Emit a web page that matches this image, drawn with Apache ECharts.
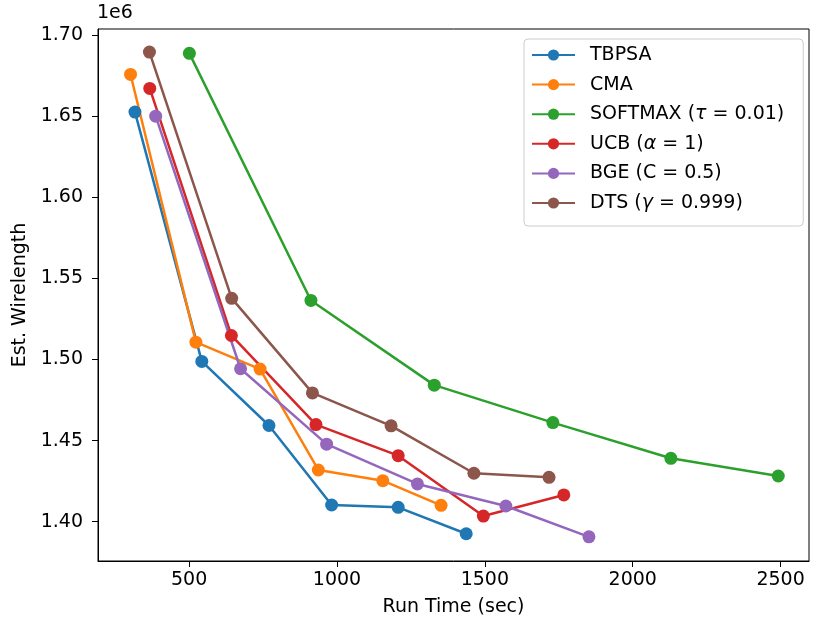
<!DOCTYPE html>
<html>
<head>
<meta charset="utf-8">
<script src="https://cdn.jsdelivr.net/npm/echarts@6/dist/echarts.min.js"></script>
<style>
  html, body { margin: 0; padding: 0; background: #fff; }
  #chart { width: 813px; height: 626px; }
</style>
</head>
<body>
<div id="chart"></div>
<script>
// values (run time in sec, wirelength)
const tbpsaX = [317, 543, 770, 982, 1207, 1437];
const tbpsaY = [1652500, 1498800, 1459300, 1410300, 1408900, 1392600];
const cmaX = [302, 523, 740, 937, 1155, 1352];
const cmaY = [1675700, 1510700, 1494100, 1431900, 1425300, 1410100];
const softmaxX = [501, 912, 1329, 1730, 2129, 2492];
const softmaxY = [1688700, 1536400, 1484200, 1461100, 1439100, 1428200];
const ucbX = [367, 643, 929, 1207, 1495, 1767];
const ucbY = [1667100, 1514800, 1459900, 1440700, 1403500, 1416500];
const bgeX = [387, 674, 965, 1272, 1571, 1852];
const bgeY = [1650000, 1494300, 1447800, 1423300, 1409700, 1390700];
const dtsX = [366, 644, 917, 1183, 1463, 1717];
const dtsY = [1689500, 1537700, 1479400, 1459100, 1429900, 1427400];

const seriesNames = ["TBPSA", "CMA", "SOFTMAX (τ = 0.01)", "UCB (α = 1)", "BGE (C = 0.5)", "DTS (γ = 0.999)"];
const colors = ["#1f77b4", "#ff7f0e", "#2ca02c", "#d62728", "#9467bd", "#8c564b"];
const xTicks = [500, 1000, 1500, 2000, 2500];
const yTicks = [1400000, 1450000, 1500000, 1550000, 1600000, 1650000, 1700000];

const FONT = "DejaVu Sans";
const FS = 19;
const allX = [tbpsaX, cmaX, softmaxX, ucbX, bgeX, dtsX];
const allY = [tbpsaY, cmaY, softmaxY, ucbY, bgeY, dtsY];

const chart = echarts.init(document.getElementById("chart"));

const series = seriesNames.map((name, i) => ({
  name: name,
  type: "line",
  data: allX[i].map((x, j) => [x, allY[i][j]]),
  symbol: "circle",
  symbolSize: 13,
  lineStyle: { color: colors[i], width: 2.5 },
  itemStyle: { color: colors[i] },
  emphasis: { disabled: true },
  animation: false,
}));

const option = {
  textStyle: { fontFamily: FONT },
  grid: {
    left: 98, top: 29, right: 4, bottom: 65,
    show: true, borderColor: "#000", borderWidth: 1,
  },
  xAxis: {
    type: "value",
    min: 192, max: 2596,
    name: "Run Time (sec)",
    nameLocation: "middle",
    nameGap: 37,
    nameTextStyle: { fontSize: FS, color: "#000", fontFamily: FONT },
    axisLine: { show: true, lineStyle: { color: "#000", width: 1 } },
    axisTick: { show: true, length: 6, lineStyle: { color: "#000" }, customValues: xTicks },
    axisLabel: {
      fontSize: FS, color: "#000", margin: 10, fontFamily: FONT,
      customValues: xTicks,
      formatter: (v) => String(v),
    },
    splitLine: { show: false },
  },
  yAxis: {
    type: "value",
    min: 1375800, max: 1703700,
    name: "Est. Wirelength",
    nameLocation: "middle",
    nameGap: 63,
    nameRotate: 90,
    nameTextStyle: { fontSize: FS, color: "#000", fontFamily: FONT },
    axisLine: { show: true, lineStyle: { color: "#000", width: 1 } },
    axisTick: { show: true, length: 6, lineStyle: { color: "#000" }, customValues: yTicks },
    axisLabel: {
      fontSize: FS, color: "#000", margin: 15, fontFamily: FONT,
      customValues: yTicks,
      formatter: (v) => (v / 1e6).toFixed(2),
    },
    splitLine: { show: false },
  },
  legend: {
    orient: "vertical",
    left: 524, top: 39,
    padding: [5, 19, 12, 7],
    itemWidth: 43, itemHeight: 14,
    itemGap: 7.6,
    borderColor: "#cccccc", borderWidth: 1, borderRadius: 4,
    backgroundColor: "rgba(255,255,255,0.8)",
    data: seriesNames,
    formatter: (name) => name.replace(/([ταγ])/, "{g|$1}"),
    textStyle: {
      fontSize: FS, color: "#000", fontFamily: FONT, lineHeight: 22,
      padding: [0, 0, 0, 10],
      rich: { g: { fontStyle: "italic", fontSize: FS, fontFamily: FONT, color: "#000", lineHeight: 22 } },
    },
  },
  graphic: [
    {
      type: "text", left: 97, top: 4,
      style: { text: "1e6", fontSize: FS, fontFamily: FONT, fill: "#000" },
    },
  ],
  series: series,
};

chart.setOption(option);
</script>
</body>
</html>
